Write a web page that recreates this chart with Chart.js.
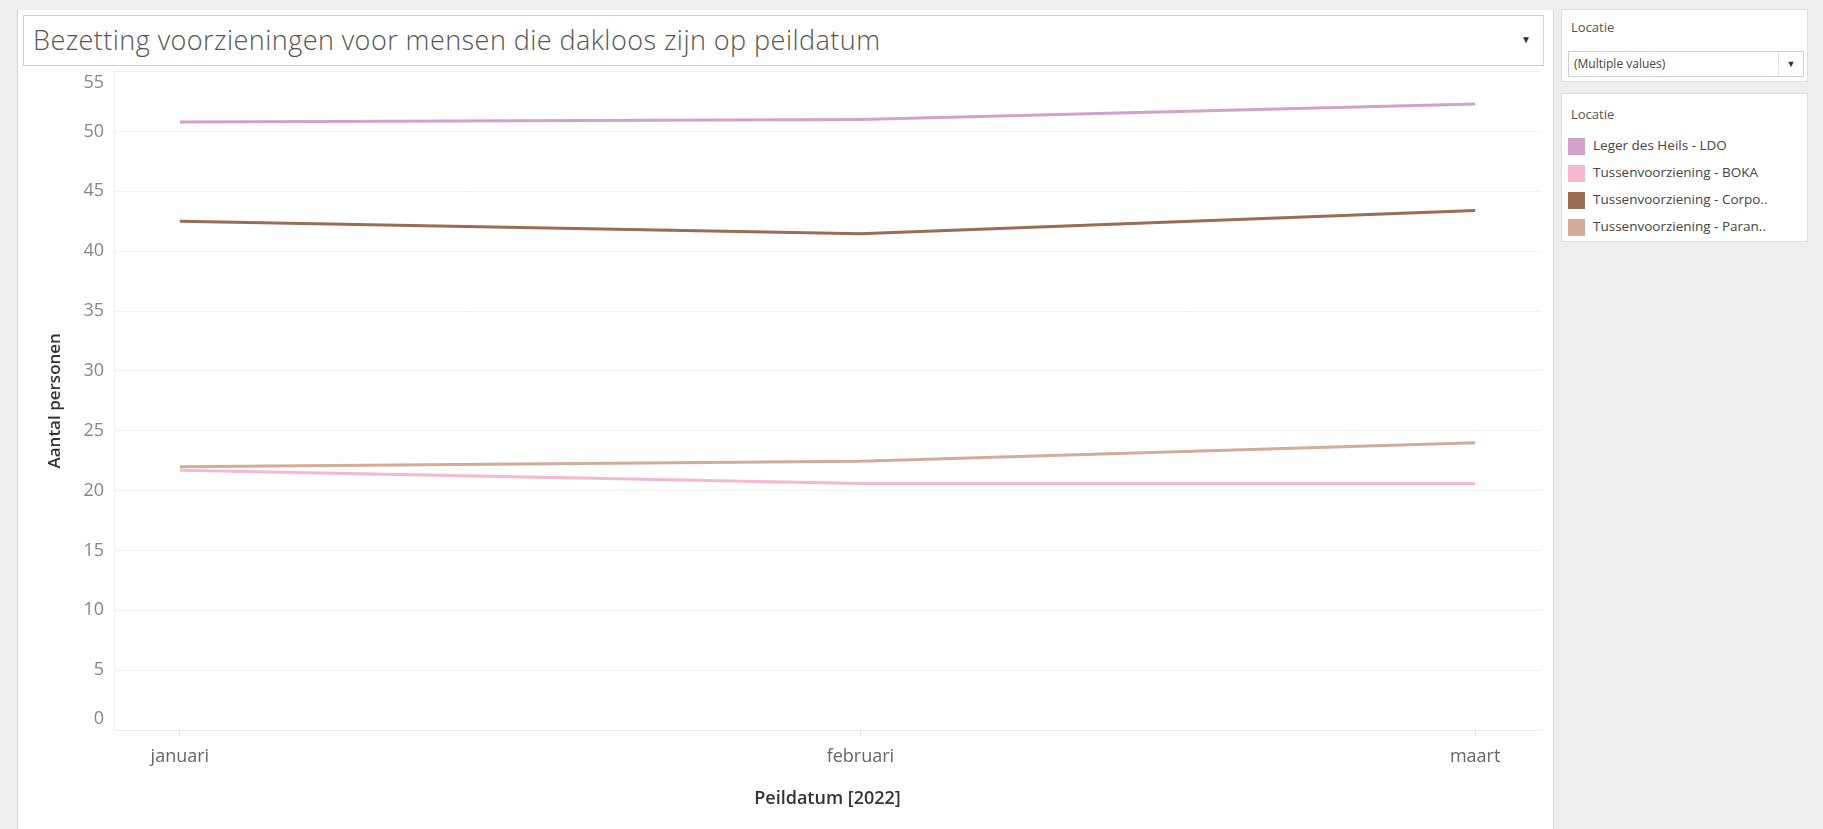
<!DOCTYPE html>
<html>
<head>
<meta charset="utf-8">
<script src="https://cdn.jsdelivr.net/npm/chart.js@4.4.1/dist/chart.umd.min.js"></script>
<style>
  body{margin:0;background:#eeeeee;width:1823px;height:829px;overflow:hidden;font-family:"Open Sans",sans-serif;}
  #main{position:absolute;left:17px;top:10px;width:1535px;height:819px;background:#fff;border-left:1px solid #d6d6d6;border-right:1px solid #d6d6d6;}
  #title{position:absolute;left:5px;top:5px;width:1521px;height:51px;border:1px solid #cfcfcf;box-sizing:border-box;
    font-size:27px;letter-spacing:0.45px;font-weight:300;color:#555;line-height:47px;padding-left:9px;white-space:nowrap;}
  #title .arr{position:absolute;right:12px;top:0;font-size:10px;color:#333;letter-spacing:0;}
  #wrap{position:absolute;left:0;top:30px;width:1535px;height:789px;}
  .box{position:absolute;left:1561px;width:247px;background:#fff;border:1px solid #dedede;box-sizing:border-box;}
  .hdr{font-size:13px;color:#555;padding:8px 0 0 9px;}
  #dd{position:absolute;left:6px;top:41px;width:236px;height:26px;border:1px solid #cfcfcf;box-sizing:border-box;font-size:12px;color:#444;line-height:24px;padding-left:5px;}
  #dd .arr{position:absolute;right:0;top:0;width:24px;height:24px;border-left:1px solid #e4e4e4;text-align:center;font-size:9px;color:#333;}
  .item{position:absolute;left:6px;height:18px;font-size:13.5px;color:#444;white-space:nowrap;}
  .sw{display:inline-block;width:17px;height:17px;vertical-align:middle;margin-right:8px;}
</style>
</head>
<body>
<div id="main">
  <div id="title">Bezetting voorzieningen voor mensen die dakloos zijn op peildatum<span class="arr">&#9660;</span></div>
  <div id="wrap"><canvas id="chart"></canvas></div>
</div>
<div class="box" style="top:9px;height:73px;">
  <div class="hdr">Locatie</div>
  <div id="dd">(Multiple values)<span class="arr">&#9660;</span></div>
</div>
<div class="box" id="legend" style="top:93px;height:149px;">
  <div class="hdr" style="padding-top:11px">Locatie</div>
</div>
<script>
const monthLabels=['januari','februari','maart'];
const dayOffsets=[0, 31, 59];
const locations=['Leger des Heils - LDO','Tussenvoorziening - BOKA','Tussenvoorziening - Corpo..','Tussenvoorziening - Paran..'];
const ldo=[50.8, 51.0, 52.3];
const boka=[21.7, 20.6, 20.6];
const corpo=[42.5, 41.45, 43.4];
const paran=[22.0, 22.45, 24.0];
const yTicks=[0,5,10,15,20,25,30,35,40,45,50,55];
const colors=['#d3a1ca','#f8b7d1','#9b6c52','#d3ab99'];

const series=[ldo, boka, corpo, paran];

// legend in the side panel
const legend=document.getElementById('legend');
locations.forEach((name,i)=>{
  const d=document.createElement('div');
  d.className='item';
  d.style.top=(42+i*27)+'px';
  d.innerHTML='<span class="sw" style="background:'+colors[i]+'"></span>'+name;
  legend.appendChild(d);
});

const datasets=series.map((vals,i)=>({
  label: locations[i],
  data: vals.map((v,j)=>({x: dayOffsets[j], y: v})),
  borderColor: colors[i],
  backgroundColor: colors[i],
  borderWidth: 3,
  pointRadius: 0,
  tension: 0,
}));

// draw order like the reference: Paran on top of BOKA
datasets[1].order=3; datasets[0].order=1; datasets[2].order=1; datasets[3].order=2;

const yMin=yTicks[0], yMax=yTicks[yTicks.length-1];

new Chart(document.getElementById('chart'), {
  type: 'line',
  data: {datasets: datasets},
  options: {
    responsive: true,
    maintainAspectRatio: false,
    animation: false,
    layout: {padding: {top: 4, right: 12, left: 23, bottom: 15}},
    plugins: {legend: {display: false}, tooltip: {enabled: false}},
    scales: {
      x: {
        type: 'linear',
        min: -3,
        max: 62,
        afterBuildTicks: (s)=>{ s.ticks=dayOffsets.map(v=>({value:v})); },
        afterFit: (s)=>{ s.height=84; },
        ticks: {
          callback: (v,i)=>monthLabels[i],
          color: '#666',
          font: {family: 'Open Sans', size: 18},
          padding: 10,
          maxRotation: 0,
        },
        grid: {display: true, drawOnChartArea: false, color: '#e6e6e6', tickLength: 6},
        border: {color: '#ececec'},
        title: {display: true, text: 'Peildatum [2022]', color: '#333', font: {family: 'Open Sans', size: 18, weight: '600'}},
      },
      y: {
        min: yMin,
        max: yMax,
        afterBuildTicks: (s)=>{ s.ticks=yTicks.map(v=>({value:v})); },
        afterFit: (s)=>{ s.width=73; },
        ticks: {
          // edge labels pulled inward, as the source tool does
          callback: (v)=> v===yMax ? ['', String(v)] : v===yMin ? [String(v), ''] : String(v),
          color: '#888',
          font: {family: 'Open Sans', size: 18},
          padding: 10,
        },
        grid: {color: '#f1f1f1', drawTicks: false},
        border: {color: '#f1f1f1'},
        title: {display: true, text: 'Aantal personen', color: '#333', font: {family: 'Open Sans', size: 17, weight: '600'}},
      }
    }
  }
});
</script>
</body>
</html>
